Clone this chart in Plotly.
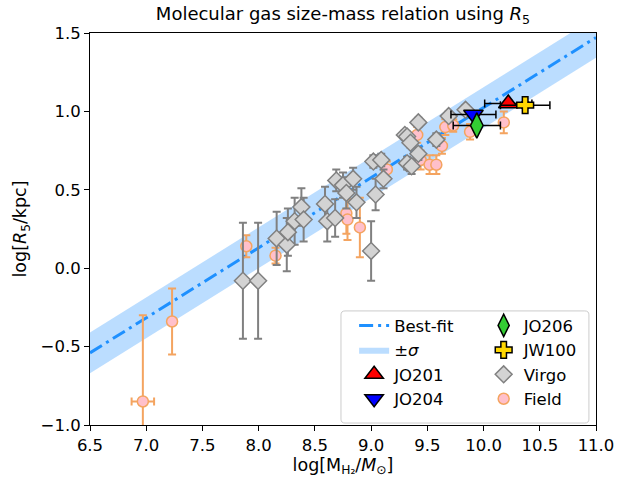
import plotly.graph_objects as go
import numpy as np

# ---- data ----
fit_slope = 0.447
fit_intercept = -3.4455
fit_sigma = 0.13
fit_x = [6.5, 11.0]

virgo_x = [7.86, 7.995, 8.16, 8.25, 8.26, 8.32, 8.38, 8.40, 8.59, 8.61, 8.69, 8.75, 8.68, 8.84,
           8.87, 9.00, 9.02, 9.09, 9.11, 9.04, 9.30, 9.32, 9.42, 9.32, 9.35, 9.42, 9.36, 9.58,
           9.69, 9.84, 8.78]
virgo_y = [-0.08, -0.08, 0.19, 0.15, 0.23, 0.30, 0.39, 0.31, 0.41, 0.30, 0.56, 0.53, 0.32, 0.57,
           0.42, 0.11, 0.68, 0.69, 0.57, 0.47, 0.85, 0.67, 0.93, 0.84, 0.80, 0.73, 0.65, 0.82,
           0.97, 1.01, 0.48]
virgo_yerr = [0.37, 0.37, 0.17, 0.17, 0.15, 0.15, 0.12, 0.14, 0.11, 0.13, 0.07, 0.08, 0.12, 0.07,
              0.10, 0.19, 0.04, 0.04, 0.06, 0.10, 0.03, 0.04, 0.03, 0.03, 0.03, 0.04, 0.05, 0.04,
              0.03, 0.03, 0.10]

field_x = [6.97, 7.23, 7.89, 8.15, 8.78, 8.79, 8.90, 9.14, 9.41, 9.44, 9.52, 9.58, 9.66, 9.63,
           9.88, 10.18, 9.73]
field_y = [-0.85, -0.34, 0.14, 0.08, 0.35, 0.31, 0.26, 0.63, 0.85, 0.69, 0.66, 0.66, 0.90, 0.78,
           0.87, 0.93, 0.91]
field_yerr = [0.55, 0.21, 0.07, 0.05, 0.13, 0.13, 0.19, 0.05, 0.05, 0.06, 0.06, 0.06, 0.05, 0.05,
              0.05, 0.07, 0.04]
field_xerr = [0.10, None, None, None, None, None, None, None, None, None, None, None, None, None,
              None, None, None]

jo201 = dict(x=10.22, y=1.05, xerr=0.21, yerr=0.02)
jo204 = dict(x=9.91, y=0.98, xerr=0.20, yerr=0.02)
jo206 = dict(x=9.94, y=0.91, xerr=0.21, yerr=0.02)
jw100 = dict(x=10.37, y=1.04, xerr=0.22, yerr=0.02)

x_ticks = [6.5, 7.0, 7.5, 8.0, 8.5, 9.0, 9.5, 10.0, 10.5, 11.0]
y_ticks = [-1.0, -0.5, 0.0, 0.5, 1.0, 1.5]

# ---- figure ----
FONT = "DejaVu Sans"
TICK = 16.5
LAB = 17.5
LEG = 16.5
fx = np.array(fit_x)
fy = fit_slope * fx + fit_intercept

fig = go.Figure()

fig.add_trace(go.Scatter(x=fx, y=fy - fit_sigma, mode="lines", line=dict(width=0),
                         showlegend=False, legendgroup="sig", hoverinfo="skip"))
fig.add_trace(go.Scatter(x=fx, y=fy + fit_sigma, mode="lines", line=dict(width=0),
                         fill="tonexty", fillcolor="rgba(30,144,255,0.3)",
                         name="±<i>σ</i>", legendgroup="sig", legendrank=2, legend="legend"))
fig.add_trace(go.Scatter(x=fx, y=fy, mode="lines",
                         line=dict(color="#1E90FF", width=3, dash="14px,5px,3px,5px"),
                         name="Best-fit", legendgroup="fit", legendrank=1, legend="legend"))

fig.add_trace(go.Scatter(
    x=field_x, y=field_y, mode="markers", name="Field", legend="legend2",
    legendgroup="field", legendrank=4,
    marker=dict(symbol="circle", size=11, color="pink", line=dict(color="#F4A460", width=1.5)),
    error_y=dict(type="data", array=field_yerr, color="#F4A460", thickness=2, width=4),
    error_x=dict(type="data", array=field_xerr, color="#F4A460", thickness=2, width=4)))

fig.add_trace(go.Scatter(
    x=virgo_x, y=virgo_y, mode="markers", name="Virgo", legend="legend2",
    legendgroup="virgo", legendrank=3,
    marker=dict(symbol="diamond", size=13, color="lightgray", line=dict(color="gray", width=1.5)),
    error_y=dict(type="data", array=virgo_yerr, color="gray", thickness=2, width=4)))

def special(d, name, symbol, color, size, leg, rank):
    fig.add_trace(go.Scatter(
        x=[d["x"]], y=[d["y"]], mode="markers", name=name, legend=leg,
        legendgroup=name, legendrank=rank,
        marker=dict(symbol=symbol, size=size, color=color, line=dict(color="black", width=1.5)),
        error_x=dict(type="data", array=[d["xerr"]], color="black", thickness=1.5, width=4),
        error_y=dict(type="data", array=[d["yerr"]], color="black", thickness=1.5, width=4)))

special(jo201, "JO201", "triangle-up", "red", 17, "legend", 3)
special(jo204, "JO204", "triangle-down", "blue", 17, "legend", 4)
special(jo206, "JO206", "diamond-tall", "#33CC33", 18, "legend2", 1)
special(jw100, "JW100", "cross", "#FFD700", 14, "legend2", 2)

# legend frame
lx0, lx1 = 0.496, 0.986
ly0, ly1 = 0.005, 0.291
rx, ry = 0.008, 0.01
path = (f"M{lx0+rx},{ly0} L{lx1-rx},{ly0} Q{lx1},{ly0} {lx1},{ly0+ry} "
        f"L{lx1},{ly1-ry} Q{lx1},{ly1} {lx1-rx},{ly1} L{lx0+rx},{ly1} "
        f"Q{lx0},{ly1} {lx0},{ly1-ry} L{lx0},{ly0+ry} Q{lx0},{ly0} {lx0+rx},{ly0} Z")
fig.add_shape(type="path", path=path, xref="paper", yref="paper",
              fillcolor="rgba(255,255,255,0.8)", line=dict(color="#CCCCCC", width=1), layer="above")

axis_common = dict(showline=True, linecolor="black", linewidth=1, mirror=True,
                   ticks="outside", ticklen=5, tickwidth=1, tickcolor="black",
                   showgrid=False, zeroline=False, automargin=False,
                   tickfont=dict(family=FONT, size=TICK, color="black"))

fig.update_layout(
    width=618, height=482,
    margin=dict(l=90, r=22, t=33, b=57),
    plot_bgcolor="white", paper_bgcolor="white",
    font=dict(family=FONT, size=TICK, color="black"),
    title=dict(text="Molecular gas size-mass relation using <i>R</i><sub>5</sub>",
               x=0.5, xref="paper", y=1 - 14 / 482, yref="container", yanchor="middle",
               font=dict(family=FONT, size=18, color="black")),
    xaxis=dict(range=[6.5, 11.0], tickvals=x_ticks, ticktext=[f"{v:.1f}" for v in x_ticks],
               title=dict(text="log[M<sub>H₂</sub>/<i>M</i><sub>⊙</sub>]", standoff=4,
                          font=dict(family=FONT, size=LAB)), **axis_common),
    yaxis=dict(range=[-1.0, 1.5], tickvals=y_ticks,
               ticktext=[f"{v:.1f}".replace("-", "−") for v in y_ticks],
               title=dict(text="log[<i>R</i><sub>5</sub>/kpc]", standoff=9,
                          font=dict(family=FONT, size=LAB)), **axis_common),
    showlegend=True,
    legend=dict(x=0.522, y=0.298, xref="paper", yref="paper", xanchor="left", yanchor="top",
                bgcolor="rgba(0,0,0,0)", borderwidth=0, tracegroupgap=0,
                font=dict(family=FONT, size=LEG, color="black")),
    legend2=dict(x=0.778, y=0.298, xref="paper", yref="paper", xanchor="left", yanchor="top",
                 bgcolor="rgba(0,0,0,0)", borderwidth=0, tracegroupgap=0,
                 font=dict(family=FONT, size=LEG, color="black")),
)

fig.write_html("out.html", config={"displayModeBar": False},
               post_script="document.body.style.margin='0';")
